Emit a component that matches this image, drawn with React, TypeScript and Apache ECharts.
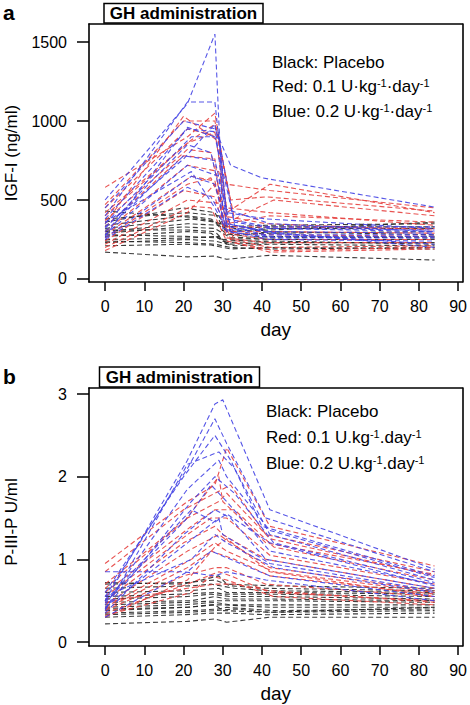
import React, { useEffect, useRef } from 'react';
import * as echarts from 'echarts';

const FONT = '"Liberation Sans", Arial, Helvetica, sans-serif';

// Tick labels
const xTicks = [0, 10, 20, 30, 40, 50, 60, 70, 80, 90];
const igfTicks = [0, 500, 1000, 1500];
const p3pTicks = [0, 1, 2, 3];

// Visit days per subject (same subjects in both panels)
const placeboDays = [
  [0, 21, 28, 31, 42, 84],
  [0, 20, 27, 32, 41, 84],
  [0, 21, 28, 33, 42, 84],
  [0, 22, 29, 31, 43, 84],
  [0, 21, 27, 30, 42, 84],
  [0, 20, 28, 32, 41, 84],
  [0, 21, 29, 33, 42, 84],
  [0, 22, 28, 31, 42, 84],
  [0, 21, 27, 32, 43, 84],
  [0, 20, 28, 30, 41, 84],
  [0, 21, 29, 31, 42, 84],
  [0, 22, 27, 33, 42, 84],
  [0, 21, 28, 32, 41, 84],
  [0, 20, 29, 31, 43, 84],
  [0, 21, 28, 30, 42, 84],
];
const lowDoseDays = [
  [0, 21, 28, 31, 42, 84],
  [0, 20, 28, 32, 41, 84],
  [0, 21, 29, 31, 42, 84],
  [0, 22, 28, 33, 43, 84],
  [0, 21, 27, 31, 42, 84],
  [0, 20, 28, 30, 41, 84],
  [0, 21, 29, 32, 42, 84],
  [0, 22, 28, 31, 43, 84],
  [0, 21, 27, 33, 42, 84],
  [0, 20, 28, 31, 41, 84],
  [0, 21, 29, 32, 42, 84],
  [0, 22, 27, 31, 43, 84],
  [0, 21, 28, 33, 42, 84],
  [0, 20, 29, 30, 41, 84],
  [0, 21, 28, 31, 42, 84],
];
const highDoseDays = [
  [0, 21, 28, 30, 42, 84],
  [0, 21, 28, 31, 41, 84],
  [0, 20, 28, 32, 40, 84],
  [0, 21, 29, 31, 42, 84],
  [0, 22, 28, 33, 43, 84],
  [0, 21, 27, 31, 42, 84],
  [0, 20, 28, 32, 41, 84],
  [0, 21, 29, 30, 42, 84],
  [0, 22, 28, 31, 43, 84],
  [0, 21, 27, 32, 42, 84],
  [0, 20, 28, 31, 41, 84],
  [0, 21, 29, 33, 42, 84],
  [0, 22, 28, 31, 42, 84],
];

// Panel a: IGF-I (ng/ml)
const igfPlacebo = [
  [170, 140, 145, 125, 150, 120],
  [210, 220, 215, 190, 200, 190],
  [230, 250, 240, 210, 220, 210],
  [250, 260, 270, 220, 230, 230],
  [270, 300, 290, 240, 250, 250],
  [290, 330, 320, 260, 270, 260],
  [300, 350, 340, 270, 300, 280],
  [320, 380, 360, 280, 290, 300],
  [340, 400, 380, 300, 320, 320],
  [360, 450, 420, 330, 340, 350],
  [380, 420, 400, 300, 310, 360],
  [430, 390, 370, 320, 330, 330],
  [240, 230, 220, 200, 190, 200],
  [280, 270, 260, 230, 240, 220],
  [310, 310, 300, 250, 260, 270],
];
const igfLowDose = [
  [580, 900, 1050, 600, 560, 450],
  [470, 1000, 1000, 500, 520, 430],
  [450, 950, 900, 420, 600, 420],
  [400, 880, 980, 380, 500, 400],
  [370, 820, 800, 350, 400, 360],
  [330, 780, 760, 330, 330, 320],
  [300, 720, 680, 300, 300, 290],
  [280, 650, 620, 290, 280, 270],
  [260, 600, 640, 280, 250, 250],
  [240, 560, 520, 260, 230, 230],
  [220, 500, 480, 250, 200, 210],
  [200, 460, 450, 240, 180, 200],
  [180, 420, 600, 230, 170, 190],
  [350, 1030, 870, 400, 350, 310],
  [420, 860, 930, 450, 420, 340],
];
const igfHighDose = [
  [500, 1110, 1550, 450, 350, 300],
  [400, 1120, 1120, 420, 380, 320],
  [450, 1000, 950, 720, 640, 455],
  [380, 950, 930, 380, 330, 330],
  [350, 900, 900, 360, 320, 310],
  [320, 850, 800, 350, 300, 290],
  [300, 780, 750, 330, 280, 280],
  [280, 720, 650, 320, 270, 270],
  [260, 650, 600, 300, 260, 260],
  [250, 580, 520, 300, 250, 240],
  [330, 760, 980, 350, 300, 200],
  [270, 960, 890, 340, 290, 220],
  [360, 680, 450, 310, 320, 300],
];

// Panel b: P-III-P (U/ml)
const p3pPlacebo = [
  [0.22, 0.25, 0.28, 0.24, 0.3, 0.3],
  [0.3, 0.33, 0.35, 0.35, 0.33, 0.35],
  [0.33, 0.36, 0.38, 0.4, 0.36, 0.38],
  [0.35, 0.38, 0.4, 0.42, 0.38, 0.4],
  [0.38, 0.42, 0.45, 0.45, 0.42, 0.42],
  [0.42, 0.45, 0.48, 0.45, 0.45, 0.45],
  [0.45, 0.48, 0.5, 0.5, 0.5, 0.48],
  [0.48, 0.5, 0.55, 0.52, 0.52, 0.5],
  [0.52, 0.55, 0.58, 0.55, 0.55, 0.52],
  [0.55, 0.58, 0.6, 0.58, 0.58, 0.55],
  [0.6, 0.62, 0.65, 0.6, 0.6, 0.58],
  [0.65, 0.68, 0.7, 0.65, 0.62, 0.6],
  [0.7, 0.72, 0.75, 0.68, 0.65, 0.62],
  [0.72, 0.7, 0.8, 0.7, 0.68, 0.65],
  [0.4, 0.42, 0.45, 0.38, 0.36, 0.42],
];
const p3pLowDose = [
  [0.95, 1.7, 1.9, 2.35, 1.4, 0.92],
  [0.85, 1.6, 1.8, 1.9, 1.3, 0.85],
  [0.7, 1.5, 1.7, 1.8, 1.25, 0.8],
  [0.6, 1.4, 1.6, 1.6, 1.15, 0.75],
  [0.55, 1.3, 1.5, 1.5, 1.05, 0.7],
  [0.5, 1.2, 1.4, 1.3, 1.0, 0.65],
  [0.45, 1.1, 1.3, 1.2, 0.9, 0.62],
  [0.42, 1.0, 1.2, 1.1, 0.85, 0.6],
  [0.4, 0.9, 1.1, 1.0, 0.8, 0.58],
  [0.38, 0.8, 0.9, 0.9, 0.7, 0.55],
  [0.35, 0.7, 0.85, 0.8, 0.6, 0.5],
  [0.32, 0.6, 0.8, 0.75, 0.55, 0.45],
  [0.48, 0.65, 0.7, 0.7, 0.62, 0.48],
  [0.65, 1.45, 2.0, 1.7, 1.2, 0.82],
  [0.3, 0.75, 1.15, 1.25, 0.85, 0.55],
];
const p3pHighDose = [
  [0.5, 2.2, 2.88, 2.93, 1.6, 0.88],
  [0.55, 2.1, 2.7, 2.4, 1.5, 0.85],
  [0.6, 2.0, 2.5, 2.2, 1.4, 0.8],
  [0.45, 1.85, 2.2, 2.0, 1.35, 0.78],
  [0.4, 1.7, 2.0, 1.8, 1.2, 0.72],
  [0.48, 1.5, 1.9, 1.7, 1.1, 0.7],
  [0.35, 1.3, 1.6, 1.5, 1.0, 0.65],
  [0.42, 1.2, 1.5, 1.3, 0.95, 0.62],
  [0.55, 1.0, 1.3, 1.2, 0.9, 0.6],
  [0.3, 0.85, 1.1, 1.0, 0.8, 0.55],
  [0.85, 0.85, 0.8, 0.85, 0.75, 0.5],
  [0.38, 2.15, 2.3, 2.1, 1.3, 0.75],
  [0.5, 1.6, 1.45, 1.55, 1.2, 0.68],
];

const BLACK = '#262626';
const RED = '#e6403e';
const BLUE = '#4343e4';

const X_MIN = -4.1;
const X_MAX = 91.1;
const FRAME_LINE = { show: true, onZero: false, lineStyle: { color: '#000', width: 1.6 } };

function groupSeries(daysRows: number[][], valueRows: number[][], color: string, axis: number) {
  return valueRows.map((vals, i) => ({
    type: 'line',
    xAxisIndex: axis,
    yAxisIndex: axis,
    data: vals.map((v, j) => [daysRows[i][j], v]),
    showSymbol: false,
    symbol: 'none',
    silent: true,
    lineStyle: { color, width: 1.1, type: [5, 3], opacity: 0.9 },
  }));
}

function xAxisBottom(gridIndex: number) {
  return {
    type: 'value',
    gridIndex,
    position: 'bottom',
    min: X_MIN,
    max: X_MAX,
    axisLine: FRAME_LINE,
    splitLine: { show: false },
    axisTick: { show: true, inside: false, length: 9, customValues: xTicks, lineStyle: { color: '#000', width: 1.5 } },
    axisLabel: { customValues: xTicks, margin: 16, fontSize: 16, color: '#000', fontFamily: FONT, formatter: (v: number) => String(v) },
    name: 'day',
    nameLocation: 'middle',
    nameGap: 38,
    nameTextStyle: { fontSize: 19, color: '#000', fontFamily: FONT },
  };
}

function xAxisTop(gridIndex: number) {
  return {
    type: 'value',
    gridIndex,
    position: 'top',
    min: X_MIN,
    max: X_MAX,
    axisLine: FRAME_LINE,
    splitLine: { show: false },
    axisTick: { show: false },
    axisLabel: { show: false },
  };
}

function yAxisLeft(gridIndex: number, min: number, max: number, ticks: number[]) {
  return {
    type: 'value',
    gridIndex,
    position: 'left',
    min,
    max,
    axisLine: FRAME_LINE,
    splitLine: { show: false },
    axisTick: { show: true, inside: false, length: 12, customValues: ticks, lineStyle: { color: '#000', width: 1.5 } },
    axisLabel: { customValues: ticks, margin: 22, fontSize: 16, color: '#000', fontFamily: FONT, formatter: (v: number) => String(v) },
  };
}

function yAxisRight(gridIndex: number, min: number, max: number) {
  return {
    type: 'value',
    gridIndex,
    position: 'right',
    min,
    max,
    axisLine: FRAME_LINE,
    splitLine: { show: false },
    axisTick: { show: false },
    axisLabel: { show: false },
  };
}

const supRich = {
  sup: { fontSize: 11, verticalAlign: 'top', fontFamily: FONT, fill: '#000', padding: [0, 0, 7, 0] },
};

function legendTexts(x: number, ys: number[], sep: string) {
  const lines = [
    'Black: Placebo',
    `Red: 0.1 U${sep}kg{sup|-1}${sep}day{sup|-1}`,
    `Blue: 0.2 U${sep}kg{sup|-1}${sep}day{sup|-1}`,
  ];
  return lines.map((t, i) => ({
    type: 'text',
    x,
    y: ys[i],
    z: 10,
    style: {
      text: t,
      font: `17px ${FONT}`,
      fill: '#000',
      verticalAlign: 'middle',
      align: 'left',
      rich: supRich,
    },
  }));
}

function titleBox(x: number, y: number, w: number, h: number) {
  return [
    {
      type: 'rect',
      z: 31,
      shape: { x, y, width: w, height: h },
      style: { fill: '#fff', stroke: '#000', lineWidth: 1.5 },
    },
    {
      type: 'text',
      z: 32,
      x: x + w / 2,
      y: y + h / 2,
      style: {
        text: 'GH administration',
        font: `bold 17px ${FONT}`,
        fill: '#000',
        align: 'center',
        verticalAlign: 'middle',
      },
    },
  ];
}

export default function App() {
  const ref = useRef<HTMLDivElement>(null);
  useEffect(() => {
    if (!ref.current) return;
    const chart = echarts.init(ref.current, undefined, { renderer: 'svg' });
    const option = {
      animation: false,
      backgroundColor: '#fff',
      textStyle: { fontFamily: FONT },
      grid: [
        { left: 89, top: 24, width: 375, height: 258 },
        { left: 89, top: 388, width: 376, height: 258 },
      ],
      xAxis: [xAxisBottom(0), xAxisBottom(1), xAxisTop(0), xAxisTop(1)],
      yAxis: [
        yAxisLeft(0, -19, 1614, igfTicks),
        yAxisLeft(1, -0.048, 3.073, p3pTicks),
        yAxisRight(0, -19, 1614),
        yAxisRight(1, -0.048, 3.073),
      ],
      series: [
        ...groupSeries(placeboDays, igfPlacebo, BLACK, 0),
        ...groupSeries(lowDoseDays, igfLowDose, RED, 0),
        ...groupSeries(highDoseDays, igfHighDose, BLUE, 0),
        ...groupSeries(placeboDays, p3pPlacebo, BLACK, 1),
        ...groupSeries(lowDoseDays, p3pLowDose, RED, 1),
        ...groupSeries(highDoseDays, p3pHighDose, BLUE, 1),
      ],
      graphic: {
        elements: [
          { type: 'text', x: 3, y: 12, style: { text: 'a', font: `bold 21px ${FONT}`, fill: '#000', verticalAlign: 'middle' } },
          { type: 'text', x: 3, y: 376, style: { text: 'b', font: `bold 21px ${FONT}`, fill: '#000', verticalAlign: 'middle' } },
          ...titleBox(104, 3.5, 159, 19.5),
          ...titleBox(99.5, 367, 160, 20),
          ...legendTexts(272, [62.5, 86, 111], '·'),
          ...legendTexts(266, [411.5, 437.5, 463], '.'),
          {
            type: 'text', x: 11, y: 153, rotation: Math.PI / 2,
            style: { text: 'IGF-I (ng/ml)', font: `17px ${FONT}`, fill: '#000', align: 'center', verticalAlign: 'middle' },
          },
          {
            type: 'text', x: 11, y: 522, rotation: Math.PI / 2,
            style: { text: 'P-III-P U/ml', font: `17px ${FONT}`, fill: '#000', align: 'center', verticalAlign: 'middle' },
          },
        ],
      },
    };
    chart.setOption(option as any);
    return () => chart.dispose();
  }, []);
  return <div ref={ref} style={{ position: 'absolute', left: 0, top: 0, width: 470, height: 705 }} />;
}
